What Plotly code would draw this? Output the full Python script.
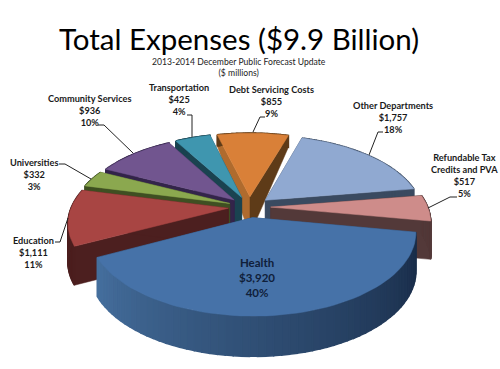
import math
import plotly.graph_objects as go

# ---- data ----
categories = ["Health", "Education", "Universities", "Community Services",
              "Transportation", "Debt Servicing Costs", "Other Departments",
              "Refundable Tax Credits and PVA"]
values = [3920, 1111, 332, 936, 425, 855, 1757, 517]
percents = [40, 11, 3, 10, 4, 9, 18, 5]

# ---- style ----
top_colors = ["#4672A8", "#A84543", "#8BA84F", "#71558F", "#3F96AF", "#D98038", "#90A9D1", "#CE8C8A"]
wall_colors = ["#2C4A70", "#4C1F1F", "#3F4F22", "#33244A", "#1A4350", "#5E3B18", "#3A4A60", "#533939"]
light_wall = {5: "#AF6B2E"}

# ---- projection of the 3-D pie ----
CX, CY, R, K, P, EXPL = 249.5, 207, 157, 0.495, 0.17, 0.135
START = 100.0
N = 60


def project(x, y, z=0.0):
    w = 1 / (1 - P * y)
    depth = 38 + 2 * y if y > 0 else 38 - 22 * y * y
    return CX + R * x * w, CY + R * K * y * w + z * depth


def slice_points(a0, a1):
    mid = math.radians((a0 + a1) / 2)
    ox, oy = EXPL * math.sin(mid), -EXPL * math.cos(mid)
    apex = (ox, oy)
    arc = []
    for j in range(N + 1):
        t = math.radians(a0 + (a1 - a0) * j / N)
        arc.append((ox + math.sin(t), oy - math.cos(t)))
    return apex, arc


def poly(points, color, lw=0.5):
    xs, ys = zip(*points)
    return go.Scatter(x=list(xs) + [xs[0]], y=list(ys) + [ys[0]], mode="lines", fill="toself",
                      fillcolor=color, line=dict(color=color, width=lw),
                      hoverinfo="skip", showlegend=False)


def mix(c1, c2, f):
    a = [int(c1[i:i + 2], 16) for i in (1, 3, 5)]
    b = [int(c2[i:i + 2], 16) for i in (1, 3, 5)]
    return "rgb(%d,%d,%d)" % tuple(round(a[i] + (b[i] - a[i]) * f) for i in range(3))


total = sum(values)
angles = []
cur = START
for v in values:
    angles.append((cur, cur + 360 * v / total))
    cur += 360 * v / total

order = sorted(range(len(values)),
               key=lambda i: -math.cos(math.radians(sum(angles[i]) / 2)))

fig = go.Figure()
for i in order:
    apex, arc = slice_points(*angles[i])
    first, last = arc[0], arc[-1]
    for edge, col in ((first, light_wall.get(i, wall_colors[i])), (last, wall_colors[i])):
        fig.add_trace(poly([project(*apex), project(*edge), project(*edge, 1), project(*apex, 1)], col))
    for j in range(N):
        p, q = arc[j], arc[j + 1]
        if i == 0:
            col = mix("#182B47", "#46709F", (j / N) ** 1.1)
        else:
            col = wall_colors[i]
        fig.add_trace(poly([project(*p), project(*q), project(*q, 1), project(*p, 1)], col, 1.5))
    fig.add_trace(poly([project(*apex)] + [project(*a) for a in arc], top_colors[i]))

# ---- labels ----
label_pos = {
    0: (257, 277), 1: (33, 252), 2: (34, 174), 3: (89, 110),
    4: (179, 99), 5: (271, 101), 6: (393, 117), 7: (464, 175),
}
label_names = {7: "Refundable Tax<br>Credits and PVA"}
annotations = []
for i, name in enumerate(categories):
    x, y = label_pos[i]
    text = "<b>%s<br>$%s<br>%d%%</b>" % (label_names.get(i, name), f"{values[i]:,}", percents[i])
    annotations.append(dict(x=x, y=y, text=text, showarrow=False, xref="x", yref="y",
                            font=dict(family="Lato", size=11.5 if i == 0 else 9.2,
                                      color="#10203A" if i == 0 else "#1A1A1A"),
                            align="center", xanchor="center", yanchor="middle"))
annotations += [
    dict(x=239, y=38, text="Total Expenses ($9.9 Billion)", showarrow=False,
         font=dict(family="Lato", size=29.5, color="black")),
    dict(x=239, y=67, text="2013-2014 December Public Forecast Update<br>($ millions)", showarrow=False,
         font=dict(family="Lato", size=8.6, color="#222222")),
]

leaders = [
    [(98, 125), (104, 125), (133, 153)],
    [(187, 115), (192, 115), (192, 137)],
    [(59, 164), (65, 164), (91, 179)],
    [(55, 242), (60, 242), (68, 218)],
    [(265, 117), (260, 117), (253, 132)],
    [(383, 132), (378, 132), (369, 155)],
    [(457, 197), (450, 197), (428, 208)],
]
for pts in leaders:
    xs, ys = zip(*pts)
    fig.add_trace(go.Scatter(x=xs, y=ys, mode="lines", line=dict(color="#222222", width=1),
                             hoverinfo="skip", showlegend=False))

fig.update_layout(
    width=500, height=369, margin=dict(l=0, r=0, t=0, b=0),
    paper_bgcolor="white", plot_bgcolor="white", showlegend=False,
    xaxis=dict(range=[0, 500], visible=False, fixedrange=True),
    yaxis=dict(range=[369, 0], visible=False, fixedrange=True),
    annotations=annotations,
)
fig.write_html("out.html", config={"displayModeBar": False},
               post_script="document.body.style.margin='0';document.documentElement.style.overflow='hidden';")
